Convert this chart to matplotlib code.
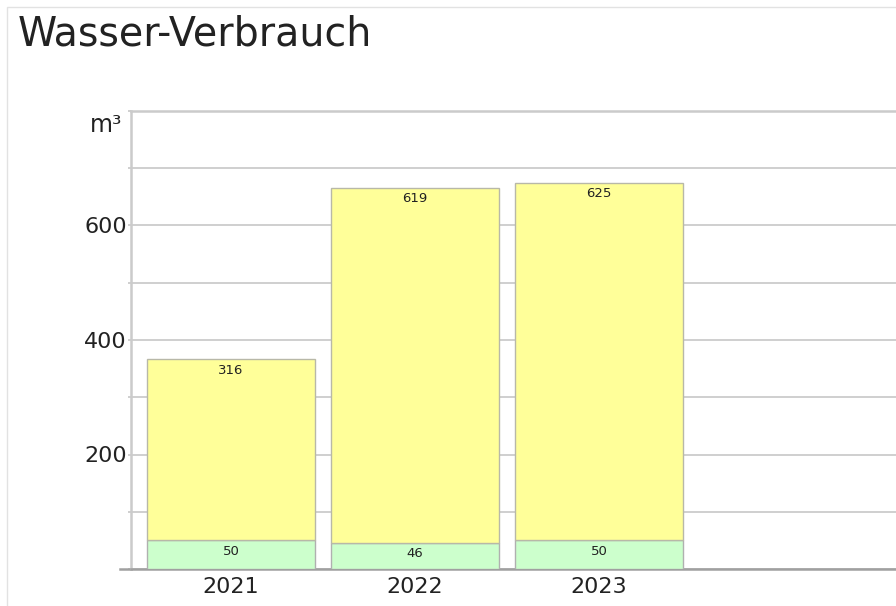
import matplotlib
matplotlib.use('Agg')
import matplotlib.pyplot as plt
from matplotlib.patches import Rectangle
from matplotlib.ticker import MultipleLocator, FuncFormatter

# ── data ─────────────────────────────────────────────────────────────────────
years      = ["2021", "2022", "2023"]
green_vals = [50, 46, 50]
yellow_vals = [316, 619, 625]
label_ticks = [200, 400, 600]

YELLOW = "#FFFF99"
GREEN  = "#CCFFCC"
GRID   = "#CBCBCB"
TEXT   = "#222222"

plt.rcParams['font.family'] = ['DejaVu Sans']

fig = plt.figure(figsize=(8.96, 6.06), dpi=100, facecolor="white")

# thin outer frame of the chart panel
fig.patches.append(Rectangle((7 / 896, -0.1), 1.2, (606 - 7) / 606 + 0.1,
                             transform=fig.transFigure, fill=False,
                             edgecolor="#E2E2E2", lw=1.0))

ax = fig.add_axes([131 / 896, 37 / 606, (896 - 131) / 896, 458 / 606])

x = list(range(len(years)))
w = 0.913
ax.bar(x, green_vals, width=w, color=GREEN, edgecolor="#B0B0B0", lw=1.0, zorder=3)
ax.bar(x, yellow_vals, bottom=green_vals, width=w, color=YELLOW,
       edgecolor="#B8B8A8", lw=1.0, zorder=3)

# value labels just under the top edge of each segment
for i in x:
    ax.annotate(str(green_vals[i]), xy=(i, green_vals[i]), xytext=(0, -3),
                textcoords="offset points", ha="center", va="top",
                fontsize=9.5, color=TEXT, zorder=4)
    top = green_vals[i] + yellow_vals[i]
    ax.annotate(str(yellow_vals[i]), xy=(i, top), xytext=(0, -3),
                textcoords="offset points", ha="center", va="top",
                fontsize=9.5, color=TEXT, zorder=4)

ax.set_xlim(-0.543, 3.614)
ax.set_ylim(0, 800)

ax.yaxis.set_major_locator(MultipleLocator(100))
ax.yaxis.set_major_formatter(FuncFormatter(
    lambda v, p: f"{int(v)}" if int(round(v)) in label_ticks else ""))
ax.grid(axis="y", color=GRID, lw=1.3, zorder=0)
ax.set_axisbelow(True)

ax.set_xticks(x)
ax.set_xticklabels(years)
ax.tick_params(axis="x", length=0, pad=6, labelsize=16, labelcolor=TEXT)
ax.tick_params(axis="y", length=2, width=1.3, color=GRID, pad=1,
               labelsize=16, labelcolor=TEXT)

for side in ("left", "top"):
    ax.spines[side].set_color(GRID)
    ax.spines[side].set_linewidth(1.8)
ax.spines["right"].set_visible(False)
ax.spines["bottom"].set_color("#A0A0A0")
ax.spines["bottom"].set_linewidth(1.8)

# base line runs a little past the left axis
ax.axhline(0, xmin=-0.0144, xmax=0.0, color="#A0A0A0", lw=1.8, clip_on=False)

# unit label at the top of the value axis
ax.annotate("m³", xy=(0, 1), xycoords="axes fraction", xytext=(-9, -2),
            textcoords="offset pixels", ha="right", va="top",
            fontsize=17, color=TEXT)

fig.text(18 / 896, 1 - 15 / 606, "Wasser-Verbrauch", ha="left", va="top",
         fontsize=28.5, color=TEXT)

fig.savefig("out.png", dpi=100, facecolor="white")
